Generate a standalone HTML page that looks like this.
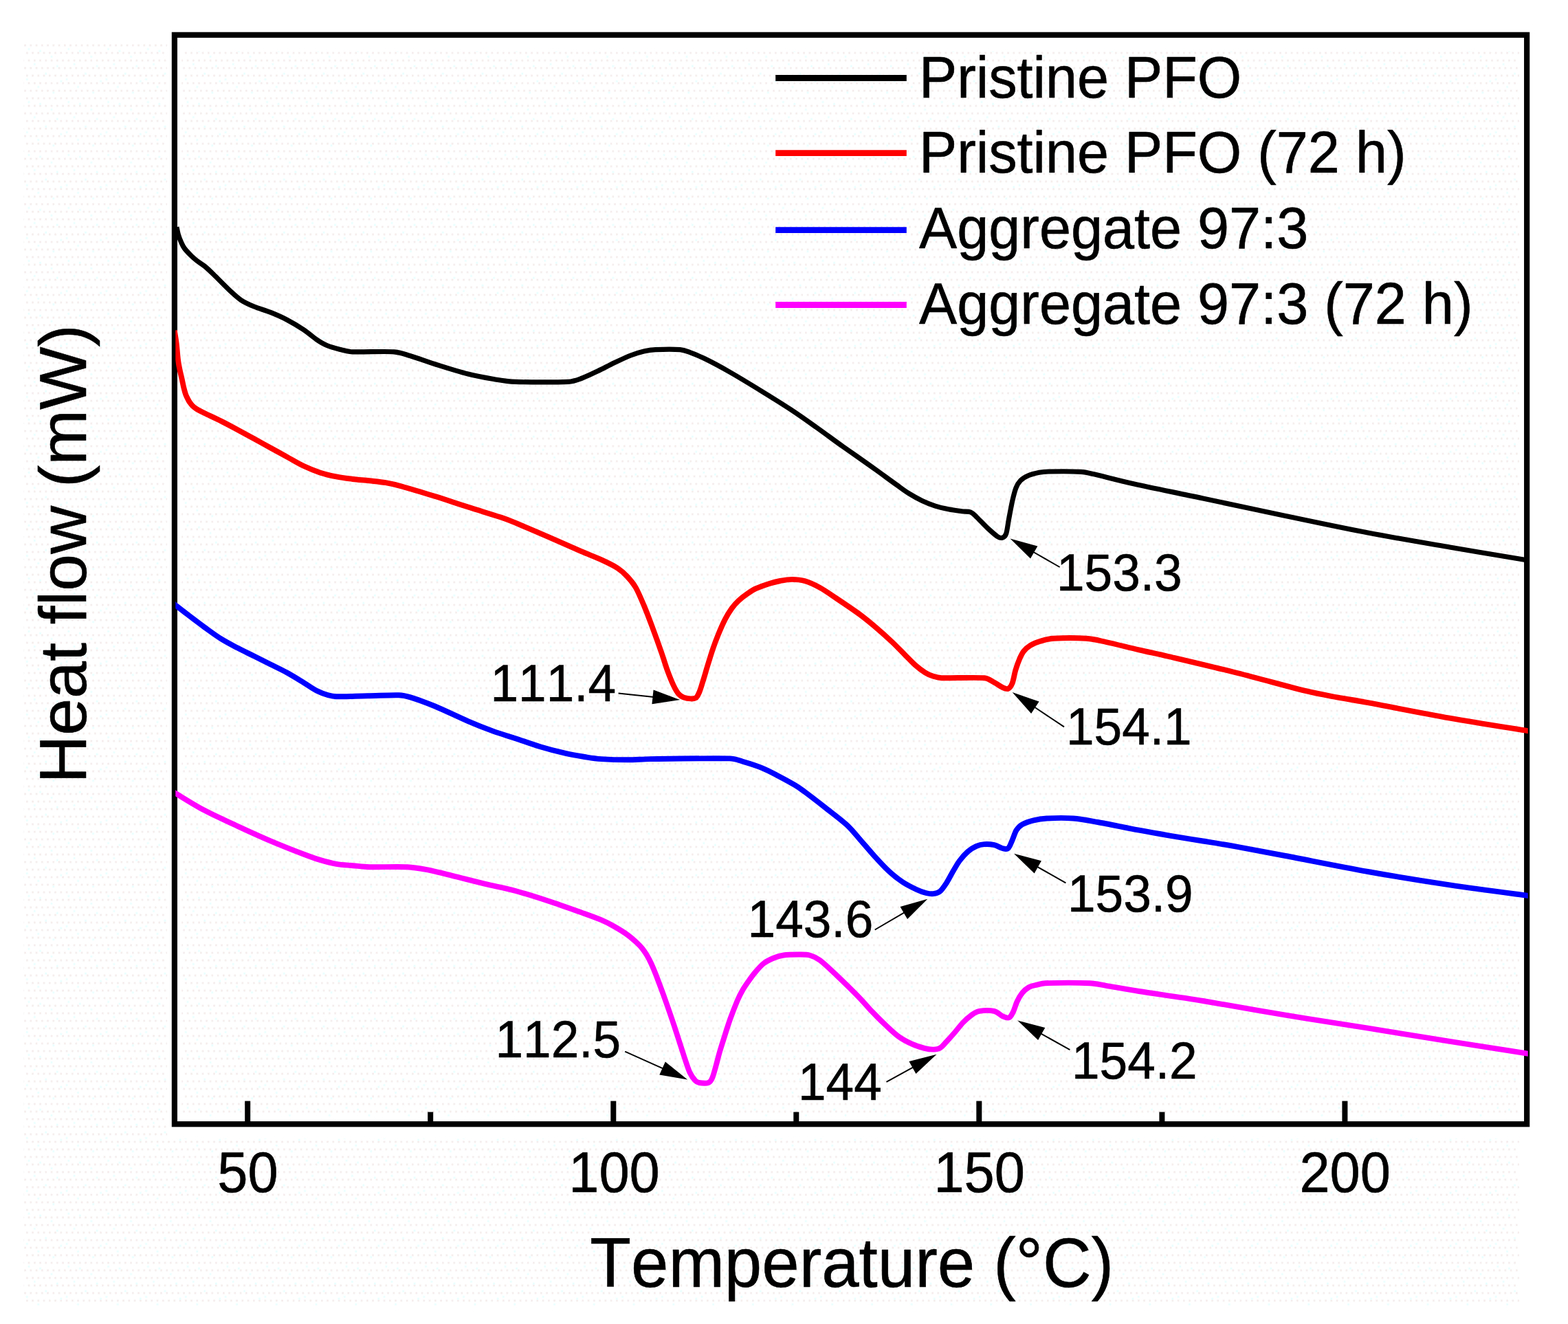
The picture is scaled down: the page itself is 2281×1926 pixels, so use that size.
<!DOCTYPE html>
<html lang="en">
<head>
<meta charset="utf-8">
<title>DSC heat flow curves</title>
<style>
html,body{margin:0;padding:0;background:#fff;}
body{width:2281px;height:1926px;overflow:hidden;}
svg{display:block;}
text{font-kerning:none;font-family:"Liberation Sans",sans-serif;fill:#000;stroke:#000;stroke-width:0.6px;stroke-linejoin:round;}
</style>
</head>
<body>
<svg width="2281" height="1926" viewBox="0 0 2281 1926">
<defs>
<clipPath id="plot"><rect x="255.3" y="50.8" width="1967.4" height="1584.5"/></clipPath>
<pattern id="dz" x="35.2" y="64.6" width="8.25" height="33" patternUnits="userSpaceOnUse"><rect x="0" y="0" width="2.75" height="2.75" fill="#f5eded"/><rect x="2.75" y="11" width="2.75" height="2.75" fill="#f5eded"/><rect x="5.5" y="22" width="2.75" height="2.75" fill="#f5eded"/></pattern>
<pattern id="dc" x="35.2" y="64.6" width="57.75" height="77" patternUnits="userSpaceOnUse"><rect x="5.5" y="5.5" width="2.75" height="2.75" fill="#e9ffff"/><rect x="22" y="8.25" width="2.75" height="2.75" fill="#e9ffff"/><rect x="38.5" y="16.5" width="2.75" height="2.75" fill="#e9ffff"/><rect x="13.75" y="27.5" width="2.75" height="2.75" fill="#e9ffff"/><rect x="46.75" y="30.25" width="2.75" height="2.75" fill="#e9ffff"/><rect x="30.25" y="41.25" width="2.75" height="2.75" fill="#e9ffff"/><rect x="2.75" y="49.5" width="2.75" height="2.75" fill="#e9ffff"/><rect x="52.25" y="52.25" width="2.75" height="2.75" fill="#e9ffff"/><rect x="19.25" y="60.5" width="2.75" height="2.75" fill="#e9ffff"/><rect x="41.25" y="68.75" width="2.75" height="2.75" fill="#e9ffff"/></pattern>
</defs>
<rect x="0" y="0" width="2281" height="1926" fill="#ffffff"/>
<rect x="34.5" y="63" width="2175.5" height="1837" fill="url(#dz)"/>
<rect x="34.5" y="63" width="2175.5" height="1837" fill="url(#dc)"/>
<rect x="243.2" y="40" width="1990" height="1616" fill="#ffffff"/>
<rect x="264.2" y="74.7" width="1945.8" height="1550.3" fill="url(#dz)"/>
<rect x="264.2" y="74.7" width="1945.8" height="1550.3" fill="url(#dc)"/>
<g stroke="#000" stroke-width="8">
<line x1="360.2" y1="1601.6" x2="360.2" y2="1635"/>
<line x1="892.3" y1="1601.6" x2="892.3" y2="1635"/>
<line x1="1424.3" y1="1601.6" x2="1424.3" y2="1635"/>
<line x1="1956.4" y1="1601.6" x2="1956.4" y2="1635"/>
<line x1="626.2" y1="1617.6" x2="626.2" y2="1635"/>
<line x1="1158.3" y1="1617.6" x2="1158.3" y2="1635"/>
<line x1="1690.4" y1="1617.6" x2="1690.4" y2="1635"/>
</g>
<rect x="253.90" y="50.80" width="1967.25" height="1584.45" fill="none" stroke="#000" stroke-width="8.2"/>
<g clip-path="url(#plot)" fill="none" stroke-linejoin="round" stroke-linecap="butt">
<path d="M257.0 330.2 C257.4 332.0 258.3 337.4 259.3 341.0 C260.3 344.6 261.7 348.1 263.2 351.5 C264.7 354.9 266.0 358.1 268.5 361.5 C271.0 364.9 275.1 369.0 278.1 372.0 C281.1 375.0 283.4 376.9 286.7 379.5 C290.0 382.1 294.1 384.3 298.2 387.6 C302.2 390.9 306.2 394.8 311.0 399.5 C316.9 405.2 327.2 416.0 333.8 422.1 C340.0 427.9 344.5 432.4 350.5 436.4 C356.5 440.4 362.5 443.0 369.7 446.0 C376.9 449.0 385.6 451.2 393.6 454.4 C401.6 457.6 409.5 461.0 417.5 465.2 C425.5 469.4 434.3 474.7 441.5 479.5 C448.7 484.3 455.0 490.1 460.6 493.9 C465.9 497.5 469.4 499.8 475.0 502.2 C480.6 504.6 487.7 506.6 494.1 508.2 C500.5 509.8 505.8 511.5 513.3 511.8 C526.5 512.4 559.1 510.8 573.1 511.8 C582.6 512.5 588.0 515.1 597.1 517.8 C607.1 520.8 619.1 525.4 633.0 529.8 C647.0 534.2 666.8 540.5 680.8 544.1 C694.4 547.6 705.2 549.4 716.7 551.3 C728.2 553.2 737.1 554.9 750.0 555.4 C768.3 556.1 810.6 556.1 826.6 555.3 C834.2 554.9 838.6 553.1 845.7 550.5 C852.9 547.9 861.7 543.6 869.7 539.8 C877.7 536.0 885.6 531.6 893.6 527.8 C901.6 524.0 910.3 519.8 917.5 517.0 C924.7 514.2 930.7 512.4 936.7 511.0 C942.7 509.6 946.9 508.9 953.4 508.6 C962.2 508.2 980.9 507.9 989.3 508.6 C995.0 509.1 998.3 510.7 1003.7 512.7 C1009.7 514.9 1017.2 517.8 1025.3 521.8 C1034.9 526.5 1047.6 533.2 1061.2 541.0 C1075.2 549.0 1094.2 560.6 1109.0 569.7 C1123.8 578.8 1136.8 586.8 1150.0 595.5 C1163.2 604.2 1175.5 613.0 1188.3 622.1 C1201.1 631.2 1213.8 640.8 1226.6 649.9 C1239.4 659.0 1252.1 667.6 1264.9 676.7 C1277.7 685.8 1293.6 697.6 1303.2 704.5 C1310.5 709.7 1315.9 713.9 1322.3 717.9 C1328.7 721.9 1335.1 725.4 1341.5 728.4 C1347.9 731.4 1354.2 734.0 1360.6 736.1 C1367.0 738.2 1373.4 739.5 1379.8 740.8 C1386.2 742.1 1393.5 743.0 1398.9 743.7 C1403.9 744.4 1408.3 743.5 1412.0 745.0 C1415.7 746.5 1417.7 749.4 1421.0 752.5 C1425.2 756.5 1432.5 764.4 1437.5 769.0 C1442.5 773.6 1447.6 778.2 1451.0 780.4 C1453.3 781.9 1455.9 782.9 1458.0 782.3 C1460.1 781.6 1462.6 779.4 1463.6 776.5 C1465.2 772.0 1466.0 763.5 1467.5 755.5 C1469.0 747.5 1471.0 736.4 1472.7 728.7 C1474.4 721.3 1476.0 714.6 1478.0 709.6 C1479.8 705.1 1481.6 702.0 1484.6 699.0 C1487.6 696.0 1491.4 693.8 1496.0 691.8 C1500.6 689.8 1507.2 688.3 1512.0 687.3 C1516.8 686.3 1520.0 686.1 1525.0 686.0 C1535.0 685.8 1561.2 685.7 1572.3 686.3 C1579.8 686.7 1584.2 688.1 1591.5 689.8 C1604.5 692.8 1627.4 699.0 1650.0 704.0 C1676.4 709.9 1713.3 717.2 1750.0 725.0 C1786.7 732.8 1830.0 742.2 1870.0 750.5 C1910.0 758.8 1950.2 767.4 1990.0 775.0 C2029.8 782.6 2070.0 789.3 2109.0 796.0 C2148.0 802.7 2204.8 812.0 2224.0 815.2" stroke="#000000" stroke-width="7.2"/>
<path d="M253.7 480.6 C254.2 483.8 255.8 492.6 256.7 500.0 C257.6 507.4 258.3 518.3 259.2 525.0 C260.0 530.8 261.0 535.3 262.0 540.0 C263.0 544.7 264.1 548.8 265.0 553.0 C265.9 557.2 266.7 561.5 267.6 565.0 C268.5 568.5 269.3 571.5 270.2 574.0 C271.1 576.4 272.0 578.1 273.0 580.0 C274.0 581.9 274.8 583.6 276.0 585.3 C277.2 587.0 278.5 588.7 280.0 590.2 C281.5 591.7 283.2 593.0 285.0 594.3 C286.8 595.6 288.9 596.6 291.0 597.8 C293.1 598.9 295.2 599.9 297.9 601.2 C303.0 603.7 313.8 608.6 321.8 612.6 C329.8 616.6 337.7 620.9 345.7 625.2 C353.7 629.5 361.7 633.9 369.7 638.3 C377.7 642.7 385.6 647.1 393.6 651.5 C401.6 655.9 409.5 660.2 417.5 664.6 C425.5 669.0 433.5 674.0 441.5 677.8 C449.5 681.6 457.4 684.8 465.4 687.4 C473.4 690.0 481.3 691.8 489.3 693.4 C497.3 695.0 505.3 696.0 513.3 697.0 C521.3 698.0 529.2 698.4 537.2 699.3 C545.2 700.2 553.1 700.8 561.1 702.2 C569.1 703.6 576.0 705.2 585.1 707.7 C597.1 711.0 617.0 717.1 633.0 722.1 C649.0 727.1 664.8 732.5 680.8 737.6 C696.8 742.7 717.2 748.8 728.7 752.6 C737.0 755.4 741.9 757.3 750.0 760.6 C761.5 765.4 781.9 774.3 797.9 781.2 C813.9 788.1 832.9 796.7 845.7 802.2 C856.7 806.9 865.7 810.2 874.5 814.2 C883.3 818.2 892.1 822.4 898.4 826.5 C904.4 830.4 908.1 834.0 912.5 838.7 C916.9 843.4 921.0 848.1 924.9 854.9 C929.0 862.2 933.2 872.4 937.4 882.4 C941.6 892.4 945.7 903.6 949.9 914.8 C954.1 926.0 958.9 939.5 962.4 949.7 C965.9 959.7 968.2 968.0 971.1 975.9 C974.0 983.8 977.1 991.5 979.8 997.1 C982.2 1002.2 984.8 1006.7 987.3 1009.6 C989.6 1012.2 991.9 1013.5 994.8 1014.6 C997.7 1015.7 1001.9 1016.3 1004.8 1016.4 C1007.7 1016.5 1010.2 1016.8 1012.3 1015.2 C1014.4 1013.7 1015.8 1010.4 1017.2 1007.1 C1018.9 1003.2 1020.4 997.9 1022.2 992.1 C1024.3 985.5 1027.2 975.3 1029.7 967.2 C1032.2 959.1 1034.7 950.8 1037.2 943.5 C1039.7 936.2 1041.8 930.6 1044.7 923.5 C1047.6 916.4 1051.4 907.5 1054.7 901.1 C1058.0 894.7 1061.3 889.5 1064.6 884.9 C1067.9 880.3 1070.8 877.1 1074.6 873.6 C1078.3 870.1 1082.9 866.6 1087.1 863.7 C1091.3 860.8 1094.5 858.5 1099.6 856.2 C1105.1 853.7 1114.1 850.6 1120.0 848.7 C1125.7 846.9 1129.7 846.0 1135.0 845.0 C1140.3 844.0 1146.1 842.9 1152.1 842.9 C1158.1 842.9 1164.4 843.3 1171.2 845.3 C1178.0 847.3 1185.2 850.7 1192.8 854.9 C1200.4 859.1 1207.6 864.3 1216.7 870.4 C1226.2 876.8 1240.5 886.3 1250.0 893.3 C1259.5 900.3 1265.9 905.7 1273.9 912.5 C1281.9 919.3 1290.7 927.2 1297.9 934.0 C1305.1 940.8 1311.4 947.6 1317.0 953.2 C1322.5 958.7 1326.6 963.3 1331.4 967.5 C1336.2 971.7 1341.3 975.6 1345.7 978.3 C1350.0 981.0 1353.7 982.5 1357.7 983.8 C1361.7 985.1 1365.0 986.0 1369.7 986.2 C1382.1 986.6 1419.1 985.1 1431.9 986.2 C1438.0 986.7 1441.9 990.4 1446.3 992.7 C1450.7 995.0 1454.8 998.4 1458.2 999.9 C1461.2 1001.3 1464.2 1002.8 1466.6 1001.8 C1469.0 1000.8 1471.2 997.4 1472.6 993.9 C1474.4 989.4 1475.6 980.7 1477.4 974.7 C1479.2 968.7 1481.4 962.6 1483.4 958.0 C1485.3 953.7 1486.7 950.4 1489.3 947.2 C1491.9 944.0 1494.9 941.2 1498.9 938.8 C1502.9 936.4 1507.7 934.5 1513.3 932.8 C1518.9 931.1 1524.9 929.2 1532.4 928.8 C1543.6 928.1 1567.5 927.9 1580.3 928.8 C1591.5 929.6 1598.0 931.6 1609.0 934.0 C1621.8 936.8 1641.7 941.8 1656.9 945.3 C1672.1 948.8 1683.5 951.1 1700.0 955.0 C1723.8 960.6 1766.7 970.6 1800.0 979.0 C1833.3 987.4 1875.8 999.3 1900.0 1005.2 C1917.2 1009.4 1930.0 1011.5 1945.0 1014.3 C1960.0 1017.1 1972.7 1018.9 1990.0 1022.1 C2017.3 1027.2 2070.0 1037.7 2109.0 1044.6 C2148.0 1051.5 2204.8 1060.3 2224.0 1063.5" stroke="#ff0000" stroke-width="7.9"/>
<path d="M252.0 877.8 C252.6 878.2 254.0 879.3 255.3 880.3 C258.9 883.1 266.8 889.3 273.9 894.7 C281.0 900.1 289.9 906.9 297.9 912.7 C305.9 918.5 313.8 924.4 321.8 929.4 C329.8 934.4 337.7 938.4 345.7 942.6 C353.7 946.8 361.7 950.5 369.7 954.5 C377.7 958.5 385.6 962.5 393.6 966.5 C401.6 970.5 409.5 974.1 417.5 978.5 C425.5 982.9 434.3 988.4 441.5 992.8 C448.7 997.2 454.6 1001.7 460.6 1004.8 C466.6 1007.9 472.6 1009.9 477.4 1011.3 C481.9 1012.6 484.7 1013.2 489.3 1013.3 C498.9 1013.5 519.8 1012.6 535.0 1012.3 C550.2 1012.0 569.9 1010.9 580.3 1011.3 C586.9 1011.5 590.8 1012.5 597.1 1014.4 C605.9 1017.1 619.4 1021.9 633.0 1027.5 C647.0 1033.3 666.8 1043.1 680.8 1049.1 C694.5 1055.0 705.2 1059.2 716.7 1063.4 C728.2 1067.6 738.5 1070.4 750.0 1074.2 C761.5 1078.0 773.9 1082.6 785.9 1086.2 C797.9 1089.8 811.0 1093.2 821.8 1095.7 C832.6 1098.2 841.7 1099.6 850.5 1101.0 C859.3 1102.4 865.2 1103.5 874.5 1104.1 C884.9 1104.8 900.8 1105.3 912.8 1105.3 C924.8 1105.3 933.4 1104.3 946.3 1104.1 C971.0 1103.8 1038.9 1102.8 1061.2 1103.4 C1068.7 1103.6 1073.1 1105.6 1080.3 1107.7 C1088.3 1110.0 1100.2 1113.7 1109.0 1117.3 C1117.8 1120.9 1125.0 1125.0 1133.0 1129.2 C1141.0 1133.4 1150.7 1138.7 1156.9 1142.4 C1162.1 1145.5 1165.1 1147.8 1170.0 1151.4 C1177.3 1156.8 1190.4 1166.9 1200.6 1174.9 C1210.8 1182.9 1222.7 1191.6 1231.2 1199.4 C1239.7 1207.2 1244.8 1214.1 1251.6 1221.8 C1258.4 1229.5 1265.2 1237.8 1272.0 1245.3 C1278.8 1252.8 1285.6 1260.4 1292.4 1266.7 C1299.2 1273.0 1306.1 1278.5 1312.9 1283.0 C1319.7 1287.5 1327.6 1291.3 1333.3 1294.0 C1338.4 1296.4 1342.9 1298.0 1347.0 1299.0 C1351.0 1300.0 1354.3 1300.6 1357.7 1300.2 C1361.1 1299.8 1364.3 1299.3 1367.3 1296.8 C1370.5 1294.1 1373.7 1289.2 1376.9 1284.3 C1380.1 1279.4 1383.2 1272.9 1386.4 1267.5 C1389.6 1262.1 1392.4 1256.8 1396.0 1252.0 C1399.6 1247.2 1404.0 1242.3 1408.0 1238.8 C1412.0 1235.3 1415.9 1233.0 1419.9 1231.2 C1423.9 1229.4 1427.5 1228.4 1431.9 1228.1 C1436.3 1227.8 1441.9 1228.2 1446.3 1229.2 C1450.7 1230.2 1454.8 1233.2 1458.2 1234.0 C1461.3 1234.7 1464.2 1236.0 1466.6 1234.0 C1469.0 1232.0 1470.6 1226.5 1472.6 1222.1 C1474.6 1217.7 1476.2 1211.5 1478.6 1207.7 C1481.0 1203.9 1483.0 1201.6 1487.0 1199.3 C1491.2 1196.9 1497.7 1194.8 1503.7 1193.3 C1509.7 1191.8 1515.4 1190.9 1522.9 1190.5 C1532.5 1190.0 1548.9 1189.6 1561.2 1190.5 C1573.5 1191.4 1583.3 1193.5 1597.0 1196.0 C1613.0 1198.9 1639.8 1204.5 1657.0 1207.7 C1673.5 1210.8 1684.5 1212.7 1700.0 1215.3 C1715.5 1217.9 1733.3 1220.8 1750.0 1223.5 C1766.7 1226.2 1780.8 1228.4 1800.0 1231.8 C1820.0 1235.4 1843.1 1239.9 1870.0 1245.0 C1901.7 1251.0 1950.2 1260.9 1990.0 1268.0 C2029.8 1275.1 2070.0 1281.6 2109.0 1287.4 C2148.0 1293.2 2204.8 1300.5 2224.0 1303.1" stroke="#0000ff" stroke-width="7.9"/>
<path d="M252.0 1152.0 C252.6 1152.3 254.0 1153.2 255.3 1153.9 C262.9 1158.4 282.8 1171.1 297.9 1179.1 C313.0 1187.1 329.8 1194.4 345.7 1201.8 C361.6 1209.2 377.6 1216.5 393.6 1223.3 C409.6 1230.1 429.5 1237.9 441.5 1242.5 C450.6 1246.0 457.4 1248.5 465.4 1250.9 C473.4 1253.3 481.3 1255.5 489.3 1256.9 C497.3 1258.3 505.3 1258.5 513.3 1259.2 C521.3 1259.9 528.0 1261.0 537.2 1261.2 C550.4 1261.5 578.3 1260.5 592.3 1261.2 C603.4 1261.7 610.2 1263.1 621.0 1265.2 C631.8 1267.3 643.1 1270.2 656.9 1273.6 C670.9 1277.0 689.3 1281.9 704.8 1285.6 C720.3 1289.3 734.5 1291.8 750.0 1296.0 C765.5 1300.2 781.9 1305.5 797.9 1310.7 C813.9 1315.9 832.9 1322.8 845.7 1327.4 C856.8 1331.4 866.5 1334.8 874.5 1338.2 C882.1 1341.4 887.1 1344.1 893.6 1347.8 C900.1 1351.5 908.0 1356.4 913.6 1360.5 C919.2 1364.6 923.7 1369.0 927.2 1372.2 C930.2 1375.0 932.2 1377.1 934.5 1380.0 C936.8 1382.9 938.8 1385.8 941.0 1389.5 C943.2 1393.2 945.3 1397.2 947.5 1402.0 C949.7 1406.8 951.9 1412.1 954.4 1418.5 C957.8 1427.4 963.5 1442.5 968.0 1455.2 C972.5 1467.9 977.1 1481.1 981.6 1494.7 C986.1 1508.3 991.6 1526.0 995.2 1536.9 C998.2 1545.8 1000.7 1554.1 1003.4 1560.0 C1005.8 1565.1 1009.3 1569.7 1011.6 1572.2 C1013.2 1573.9 1014.7 1574.7 1017.0 1575.0 C1020.2 1575.5 1027.4 1576.1 1030.6 1575.0 C1033.8 1573.9 1034.7 1571.3 1036.1 1568.2 C1037.9 1564.1 1039.7 1556.9 1041.5 1550.5 C1043.3 1544.1 1045.0 1536.8 1047.0 1530.0 C1049.0 1523.2 1050.8 1517.5 1053.3 1509.7 C1055.8 1501.8 1059.0 1491.5 1062.2 1482.4 C1065.5 1473.3 1069.8 1462.3 1072.8 1455.2 C1075.4 1449.2 1077.9 1444.5 1080.5 1440.0 C1083.1 1435.5 1085.4 1432.3 1088.4 1428.0 C1091.4 1423.7 1094.8 1418.8 1098.6 1414.4 C1102.3 1410.0 1106.6 1404.9 1110.9 1401.5 C1115.2 1398.1 1119.7 1396.0 1124.5 1394.0 C1129.3 1392.0 1133.9 1390.4 1140.0 1389.5 C1146.2 1388.6 1155.3 1388.5 1161.7 1388.5 C1168.1 1388.5 1173.2 1388.3 1178.4 1389.7 C1183.6 1391.1 1187.8 1393.2 1192.8 1396.9 C1199.2 1401.7 1207.7 1409.9 1216.7 1418.4 C1226.2 1427.5 1241.3 1442.2 1250.0 1451.2 C1257.6 1459.0 1262.7 1465.4 1269.1 1472.1 C1275.5 1478.8 1281.9 1485.2 1288.3 1491.2 C1294.7 1497.2 1301.0 1503.4 1307.4 1508.0 C1313.8 1512.6 1320.2 1515.8 1326.6 1518.7 C1333.0 1521.6 1340.5 1523.9 1345.7 1525.2 C1350.2 1526.3 1354.1 1526.7 1357.7 1526.6 C1361.3 1526.5 1364.1 1526.6 1367.3 1524.7 C1370.5 1522.8 1373.3 1519.0 1376.9 1515.2 C1380.5 1511.4 1384.8 1506.6 1388.8 1502.0 C1392.8 1497.4 1396.8 1491.8 1400.8 1487.6 C1404.8 1483.4 1408.8 1479.7 1412.8 1476.9 C1416.8 1474.1 1419.7 1471.8 1424.7 1470.9 C1430.3 1469.9 1440.7 1469.7 1446.3 1470.9 C1451.5 1472.0 1454.6 1476.5 1458.2 1478.1 C1461.7 1479.6 1465.2 1481.4 1467.8 1480.4 C1470.4 1479.4 1472.0 1475.6 1473.8 1472.1 C1475.8 1468.1 1477.6 1461.1 1479.8 1456.5 C1482.0 1451.9 1484.2 1447.9 1487.0 1444.5 C1489.8 1441.1 1492.9 1438.2 1496.5 1436.2 C1500.1 1434.2 1504.5 1433.6 1508.5 1432.6 C1512.5 1431.6 1515.8 1430.3 1520.5 1430.2 C1533.3 1429.8 1570.3 1429.6 1585.1 1430.2 C1594.4 1430.6 1599.8 1432.3 1609.0 1433.8 C1621.0 1435.8 1638.5 1439.1 1657.0 1442.0 C1680.5 1445.7 1714.5 1450.2 1750.0 1456.0 C1785.5 1461.8 1830.0 1470.0 1870.0 1476.6 C1910.0 1483.2 1950.2 1489.3 1990.0 1495.7 C2029.8 1502.1 2070.0 1508.7 2109.0 1514.9 C2148.0 1521.1 2204.8 1529.8 2224.0 1532.8" stroke="#ff00ff" stroke-width="7.9"/>
</g>
<text id="t50" class="tick" transform="translate(360.50,1733.60) scale(1,1.040)" font-size="79.40" text-anchor="middle">50</text>
<text id="t100" class="tick" transform="translate(893.47,1733.60) scale(1,1.040)" font-size="79.40" text-anchor="middle">100</text>
<text id="t150" class="tick" transform="translate(1424.63,1733.60) scale(1,1.040)" font-size="79.40" text-anchor="middle">150</text>
<text id="t200" class="tick" transform="translate(1956.70,1733.60) scale(1,1.040)" font-size="79.40" text-anchor="middle">200</text>
<text id="xt" class="title" transform="translate(1239.20,1871.80) scale(1,1.040)" font-size="97.80" text-anchor="middle">Temperature (°C)</text>
<text id="yt" class="title" transform="translate(124.60,806.00) rotate(-90)" font-size="96.90" text-anchor="middle">Heat flow (mW)</text>
<line x1="1128.2" y1="113.5" x2="1318.8" y2="113.5" stroke="#000000" stroke-width="8.8"/>
<text id="l0" class="leg" transform="translate(1337.00,141.60) scale(1,1.035)" font-size="82.80">Pristine PFO</text>
<line x1="1128.2" y1="222.6" x2="1318.8" y2="222.6" stroke="#ff0000" stroke-width="8.8"/>
<text id="l1" class="leg" transform="translate(1337.00,251.30) scale(1,1.035)" font-size="82.80">Pristine PFO (72 h)</text>
<line x1="1128.2" y1="334.6" x2="1318.8" y2="334.6" stroke="#0000ff" stroke-width="8.8"/>
<text id="l2" class="leg" transform="translate(1337.00,361.00) scale(1,1.035)" font-size="82.80">Aggregate 97:3</text>
<line x1="1128.2" y1="443.5" x2="1318.8" y2="443.5" stroke="#ff00ff" stroke-width="8.8"/>
<text id="l3" class="leg" transform="translate(1337.00,471.40) scale(1,1.035)" font-size="82.80">Aggregate 97:3 (72 h)</text>
<text id="a0" class="ann" transform="translate(1537.00,859.00) scale(1,1.050)" font-size="73.00">153.3</text>
<line x1="1541.7" y1="825.0" x2="1500.7" y2="801.5" stroke="#000" stroke-width="2"/><polygon points="1469.5,783.6 1509.4,794.5 1499.0,812.5" fill="#000"/>
<text id="a1" class="ann" transform="translate(1551.00,1083.20) scale(1,1.050)" font-size="73.00">154.1</text>
<line x1="1548.0" y1="1057.4" x2="1502.5" y2="1027.0" stroke="#000" stroke-width="2"/><polygon points="1472.6,1007.0 1511.6,1020.6 1500.1,1037.9" fill="#000"/>
<text id="a2" class="ann" transform="translate(1553.00,1326.20) scale(1,1.050)" font-size="73.00">153.9</text>
<line x1="1550.4" y1="1284.3" x2="1506.3" y2="1259.4" stroke="#000" stroke-width="2"/><polygon points="1475.0,1241.7 1514.9,1252.3 1504.7,1270.4" fill="#000"/>
<text id="a3" class="ann" transform="translate(1559.00,1569.00) scale(1,1.050)" font-size="73.00">154.2</text>
<line x1="1556.4" y1="1527.1" x2="1511.7" y2="1502.1" stroke="#000" stroke-width="2"/><polygon points="1480.3,1484.5 1520.3,1495.0 1510.1,1513.1" fill="#000"/>
<text id="a4" class="ann" transform="translate(713.50,1020.20) scale(1,1.050)" font-size="73.00">111.4</text>
<line x1="899.6" y1="1008.6" x2="953.5" y2="1014.3" stroke="#000" stroke-width="2"/><polygon points="989.3,1018.1 948.4,1024.2 950.6,1003.5" fill="#000"/>
<text id="a5" class="ann" transform="translate(720.50,1538.10) scale(1,1.050)" font-size="73.00">112.5</text>
<line x1="909.2" y1="1529.7" x2="967.2" y2="1555.7" stroke="#000" stroke-width="2"/><polygon points="1000.1,1570.4 959.3,1563.5 967.8,1544.6" fill="#000"/>
<text id="a6" class="ann" transform="translate(1087.60,1363.30) scale(1,1.050)" font-size="73.00">143.6</text>
<line x1="1272.7" y1="1352.5" x2="1318.2" y2="1325.9" stroke="#000" stroke-width="2"/><polygon points="1349.3,1307.8 1320.0,1336.9 1309.5,1319.0" fill="#000"/>
<text id="a7" class="ann" transform="translate(1161.00,1600.10) scale(1,1.050)" font-size="73.00">144</text>
<line x1="1289.5" y1="1573.8" x2="1330.9" y2="1551.1" stroke="#000" stroke-width="2"/><polygon points="1362.5,1533.8 1332.4,1562.1 1322.4,1543.9" fill="#000"/>
</svg>
</body>
</html>
